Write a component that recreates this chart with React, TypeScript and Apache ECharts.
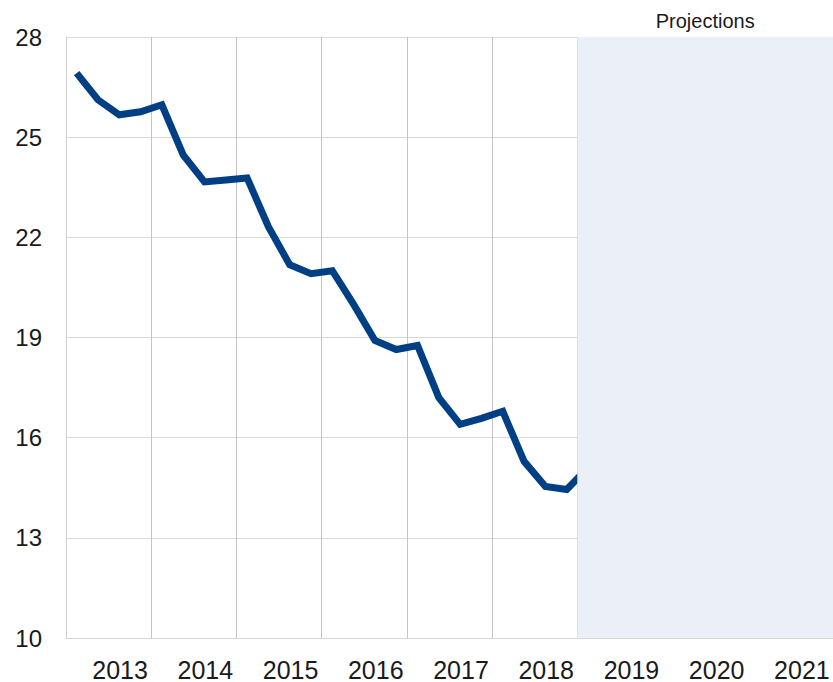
import React, { useEffect, useRef } from "react";
import * as echarts from "echarts";

const years = ["2013", "2014", "2015", "2016", "2017", "2018", "2019", "2020", "2021"];
const yTicks = [10, 13, 16, 19, 22, 25, 28];
// quarterly values, Q1 2013 .. Q1 2019
const quarterTimes = [
  2013.125, 2013.375, 2013.625, 2013.875,
  2014.125, 2014.375, 2014.625, 2014.875,
  2015.125, 2015.375, 2015.625, 2015.875,
  2016.125, 2016.375, 2016.625, 2016.875,
  2017.125, 2017.375, 2017.625, 2017.875,
  2018.125, 2018.375, 2018.625, 2018.875,
  2019.125,
];
const values = [
  26.92, 26.12, 25.67, 25.76,
  25.97, 24.47, 23.66, 23.72,
  23.78, 22.32, 21.18, 20.91,
  21.0, 19.99, 18.91, 18.64,
  18.76, 17.2, 16.4, 16.58,
  16.79, 15.29, 14.54, 14.45,
  15.1,
];
const projectionStart = 2019;
const projectionEnd = 2022;
const projectionLabel = "Projections";

const BASE = yTicks[0];

export default function App() {
  const ref = useRef<HTMLDivElement>(null);
  useEffect(() => {
    document.body.style.margin = "0";
    if (!ref.current) return;
    const chart = echarts.init(ref.current, null, { renderer: "svg" });
    const font = "'Liberation Sans', Arial, Helvetica, sans-serif";
    chart.setOption({
      animation: false,
      grid: { left: 66, right: 0, top: 37, bottom: 43, containLabel: false },
      xAxis: [
        {
          type: "category",
          data: years,
          boundaryGap: true,
          axisLine: { show: true, lineStyle: { color: "#d6d6d6", width: 1 } },
          axisTick: { show: false },
          axisLabel: {
            color: "#1a1a1a",
            fontSize: 25,
            fontFamily: font,
            margin: 19,
            interval: 0,
            padding: [0, 0, 0, 23],
          },
          splitLine: { show: true, interval: 0, lineStyle: { color: "#c4c4c4", width: 1 } },
        },
        {
          type: "value",
          min: Number(years[0]),
          max: Number(years[years.length - 1]) + 1,
          show: false,
          splitLine: { show: false },
        },
      ],
      yAxis: {
        type: "value",
        min: 0,
        max: yTicks[yTicks.length - 1] - BASE,
        interval: yTicks[1] - yTicks[0],
        axisLine: { show: true, lineStyle: { color: "#d0d0d0", width: 1 } },
        axisTick: { show: false },
        axisLabel: {
          color: "#1a1a1a",
          fontSize: 24,
          fontFamily: font,
          margin: 24,
          formatter: (v: number) => String(Math.round(v + BASE)),
        },
        splitLine: { show: true, lineStyle: { color: "#d8d8d8", width: 1 } },
      },
      series: [
        {
          type: "line",
          xAxisIndex: 1,
          data: quarterTimes.map((t, i) => [t, values[i] - BASE]),
          showSymbol: false,
          symbol: "none",
          lineStyle: { color: "#003f84", width: 7, join: "miter" },
          z: 2,
        },
        {
          type: "line",
          xAxisIndex: 1,
          data: [],
          z: 5,
          silent: true,
          markArea: {
            silent: true,
            z: 10,
            itemStyle: { color: "#ebf0f8" },
            label: {
              show: true,
              position: "top",
              distance: 6,
              color: "#1a1a1a",
              fontSize: 20,
              fontFamily: font,
            },
            data: [
              [
                { name: projectionLabel, xAxis: projectionStart, yAxis: 0 },
                { xAxis: projectionEnd, yAxis: yTicks[yTicks.length - 1] - BASE },
              ],
            ],
          },
        },
      ],
    });
    return () => chart.dispose();
  }, []);
  return <div ref={ref} style={{ width: 833, height: 682 }} />;
}
